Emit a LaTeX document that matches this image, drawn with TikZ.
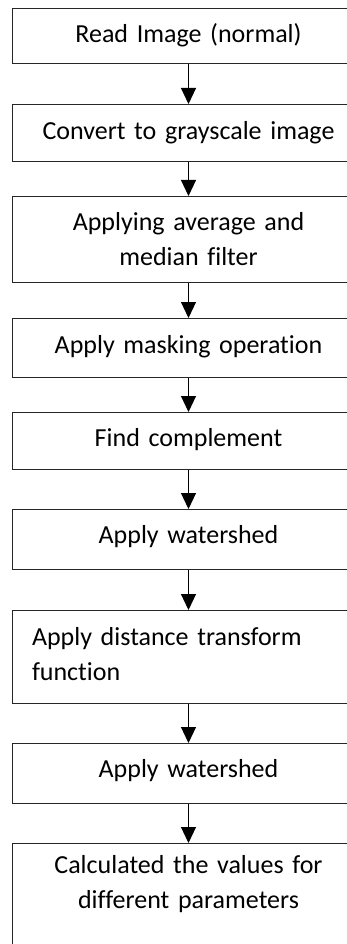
\documentclass[tikz,border=0pt]{standalone}
\usepackage{fontspec}
\setmainfont[Ligatures=NoCommon]{Carlito}
\usetikzlibrary{arrows.meta}
\tikzset{
  flowbox/.style={draw=black!85, line width=0.8pt, inner ysep=0pt, inner xsep=0pt,
    text width=353pt, align=center, anchor=north,
    font=\fontsize{26}{35}\selectfont},
  leftbox/.style={flowbox, inner xsep=20pt, text width=313pt, align=left},
  flowarrow/.style={draw=black, line width=1.1pt, -{Triangle[width=15pt,length=16pt]}}
}
\begin{document}
\begin{tikzpicture}[x=1pt,y=1pt]
\useasboundingbox (0,0) rectangle (347,-944);
\clip (0,0) rectangle (347,-944);
\node[flowbox, text height=34pt, text depth=21pt] (b1) at (188.5,-8) {Read Image (normal)};
\node[flowbox, text height=35pt, text depth=22pt] (b2) at (188.5,-104) {Convert to grayscale image};
\node[flowbox, text height=34pt, text depth=52pt] (b3) at (188.5,-196) {Applying average and\\median filter};
\node[flowbox, text height=35pt, text depth=24pt] (b4) at (188.5,-318) {Apply masking operation};
\node[flowbox, text height=34pt, text depth=23pt] (b5) at (188.5,-412) {Find complement};
\node[flowbox, text height=34pt, text depth=26pt] (b6) at (188.5,-509) {Apply watershed};
\node[leftbox, text height=35pt, text depth=58pt] (b7) at (188.5,-610) {Apply distance transform\\function};
\node[flowbox, text height=34pt, text depth=26pt] (b8) at (188.5,-743) {Apply watershed};
\node[flowbox, text height=30pt, text depth=107pt] (b9) at (188.5,-843) {Calculated the values for\\different parameters};
\draw[flowarrow] (b1) -- (b2);
\draw[flowarrow] (b2) -- (b3);
\draw[flowarrow] (b3) -- (b4);
\draw[flowarrow] (b4) -- (b5);
\draw[flowarrow] (b5) -- (b6);
\draw[flowarrow] (b6) -- (b7);
\draw[flowarrow] (b7) -- (b8);
\draw[flowarrow] (b8) -- (b9);
\end{tikzpicture}
\end{document}
